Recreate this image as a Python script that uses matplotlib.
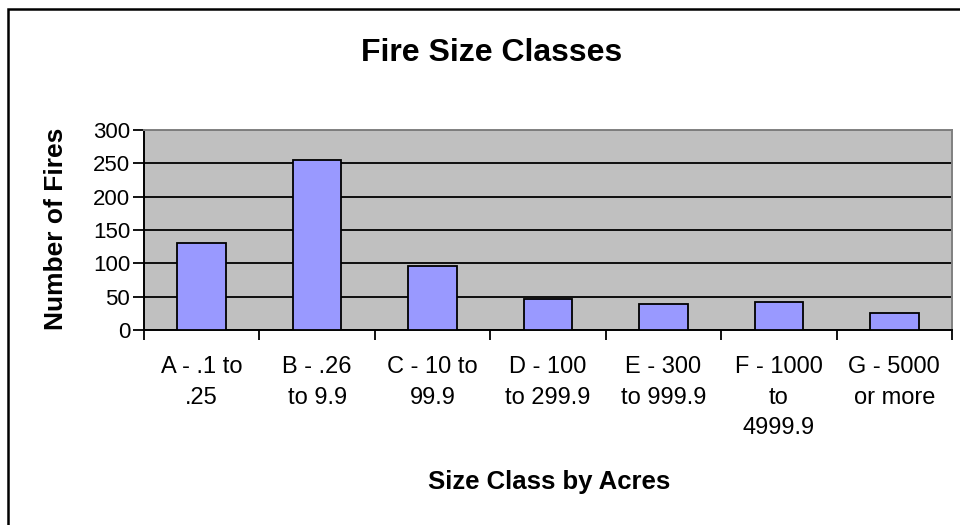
import matplotlib.pyplot as plt
from matplotlib.patches import Rectangle

# data
size_classes = ['A - .1 to\n.25', 'B - .26\nto 9.9', 'C - 10 to\n99.9',
                'D - 100\nto 299.9', 'E - 300\nto 999.9', 'F - 1000\nto\n4999.9',
                'G - 5000\nor more']
fire_counts = [131, 255, 96, 47, 39, 42, 26]
y_ticks = [0, 50, 100, 150, 200, 250, 300]

plt.rcParams['font.family'] = ['Liberation Sans', 'DejaVu Sans']

fig = plt.figure(figsize=(9.6, 5.25), dpi=100)
fig.patch.set_facecolor('white')

# plot area (pixels: x 144-952, y 130-330)
ax = fig.add_axes([144/960, 1 - 330/525, 808/960, 200/525])
ax.set_facecolor('#C0C0C0')

x = list(range(len(size_classes)))
ax.bar(x, fire_counts, width=0.42, color='#9999FF', edgecolor='black',
       linewidth=1.3, zorder=3)

ax.set_xlim(-0.5, len(size_classes) - 0.5)
ax.set_ylim(0, 300)
ax.set_yticks(y_ticks)
ax.yaxis.grid(True, color='black', linewidth=1.3, zorder=1)
ax.set_axisbelow(True)

# category labels at centres, tick marks at boundaries
ax.set_xticks(x)
ax.set_xticklabels(size_classes, fontsize=17, linespacing=1.5)
ax.tick_params(axis='x', which='major', length=0, pad=19)
ax.set_xticks([i - 0.5 for i in range(len(size_classes) + 1)], minor=True)
ax.tick_params(axis='x', which='minor', length=7, width=1.3, direction='out')
ax.tick_params(axis='y', labelsize=16, length=8, width=1.3, direction='out', pad=2)

for s in ['left', 'bottom']:
    ax.spines[s].set_color('black')
    ax.spines[s].set_linewidth(1.4)
for s in ['top', 'right']:
    ax.spines[s].set_color('#808080')
    ax.spines[s].set_linewidth(1.4)

fig.text(492/960, 1 - 53/525, 'Fire Size Classes', ha='center', va='center',
         fontsize=23, fontweight='bold')
fig.text(549/960, 1 - 482/525, 'Size Class by Acres', ha='center', va='center',
         fontsize=18.5, fontweight='bold')
fig.text(56/960, 1 - 229/525, 'Number of Fires', ha='center', va='center',
         rotation=90, fontsize=19, fontweight='bold')

# chart border (only left and top edges are inside the image)
fig.patches.append(Rectangle((8/960, -0.2), 1.2, 1.2 - 9/525,
                             transform=fig.transFigure, fill=False,
                             edgecolor='black', linewidth=1.8))

fig.savefig('out.png', dpi=100)
